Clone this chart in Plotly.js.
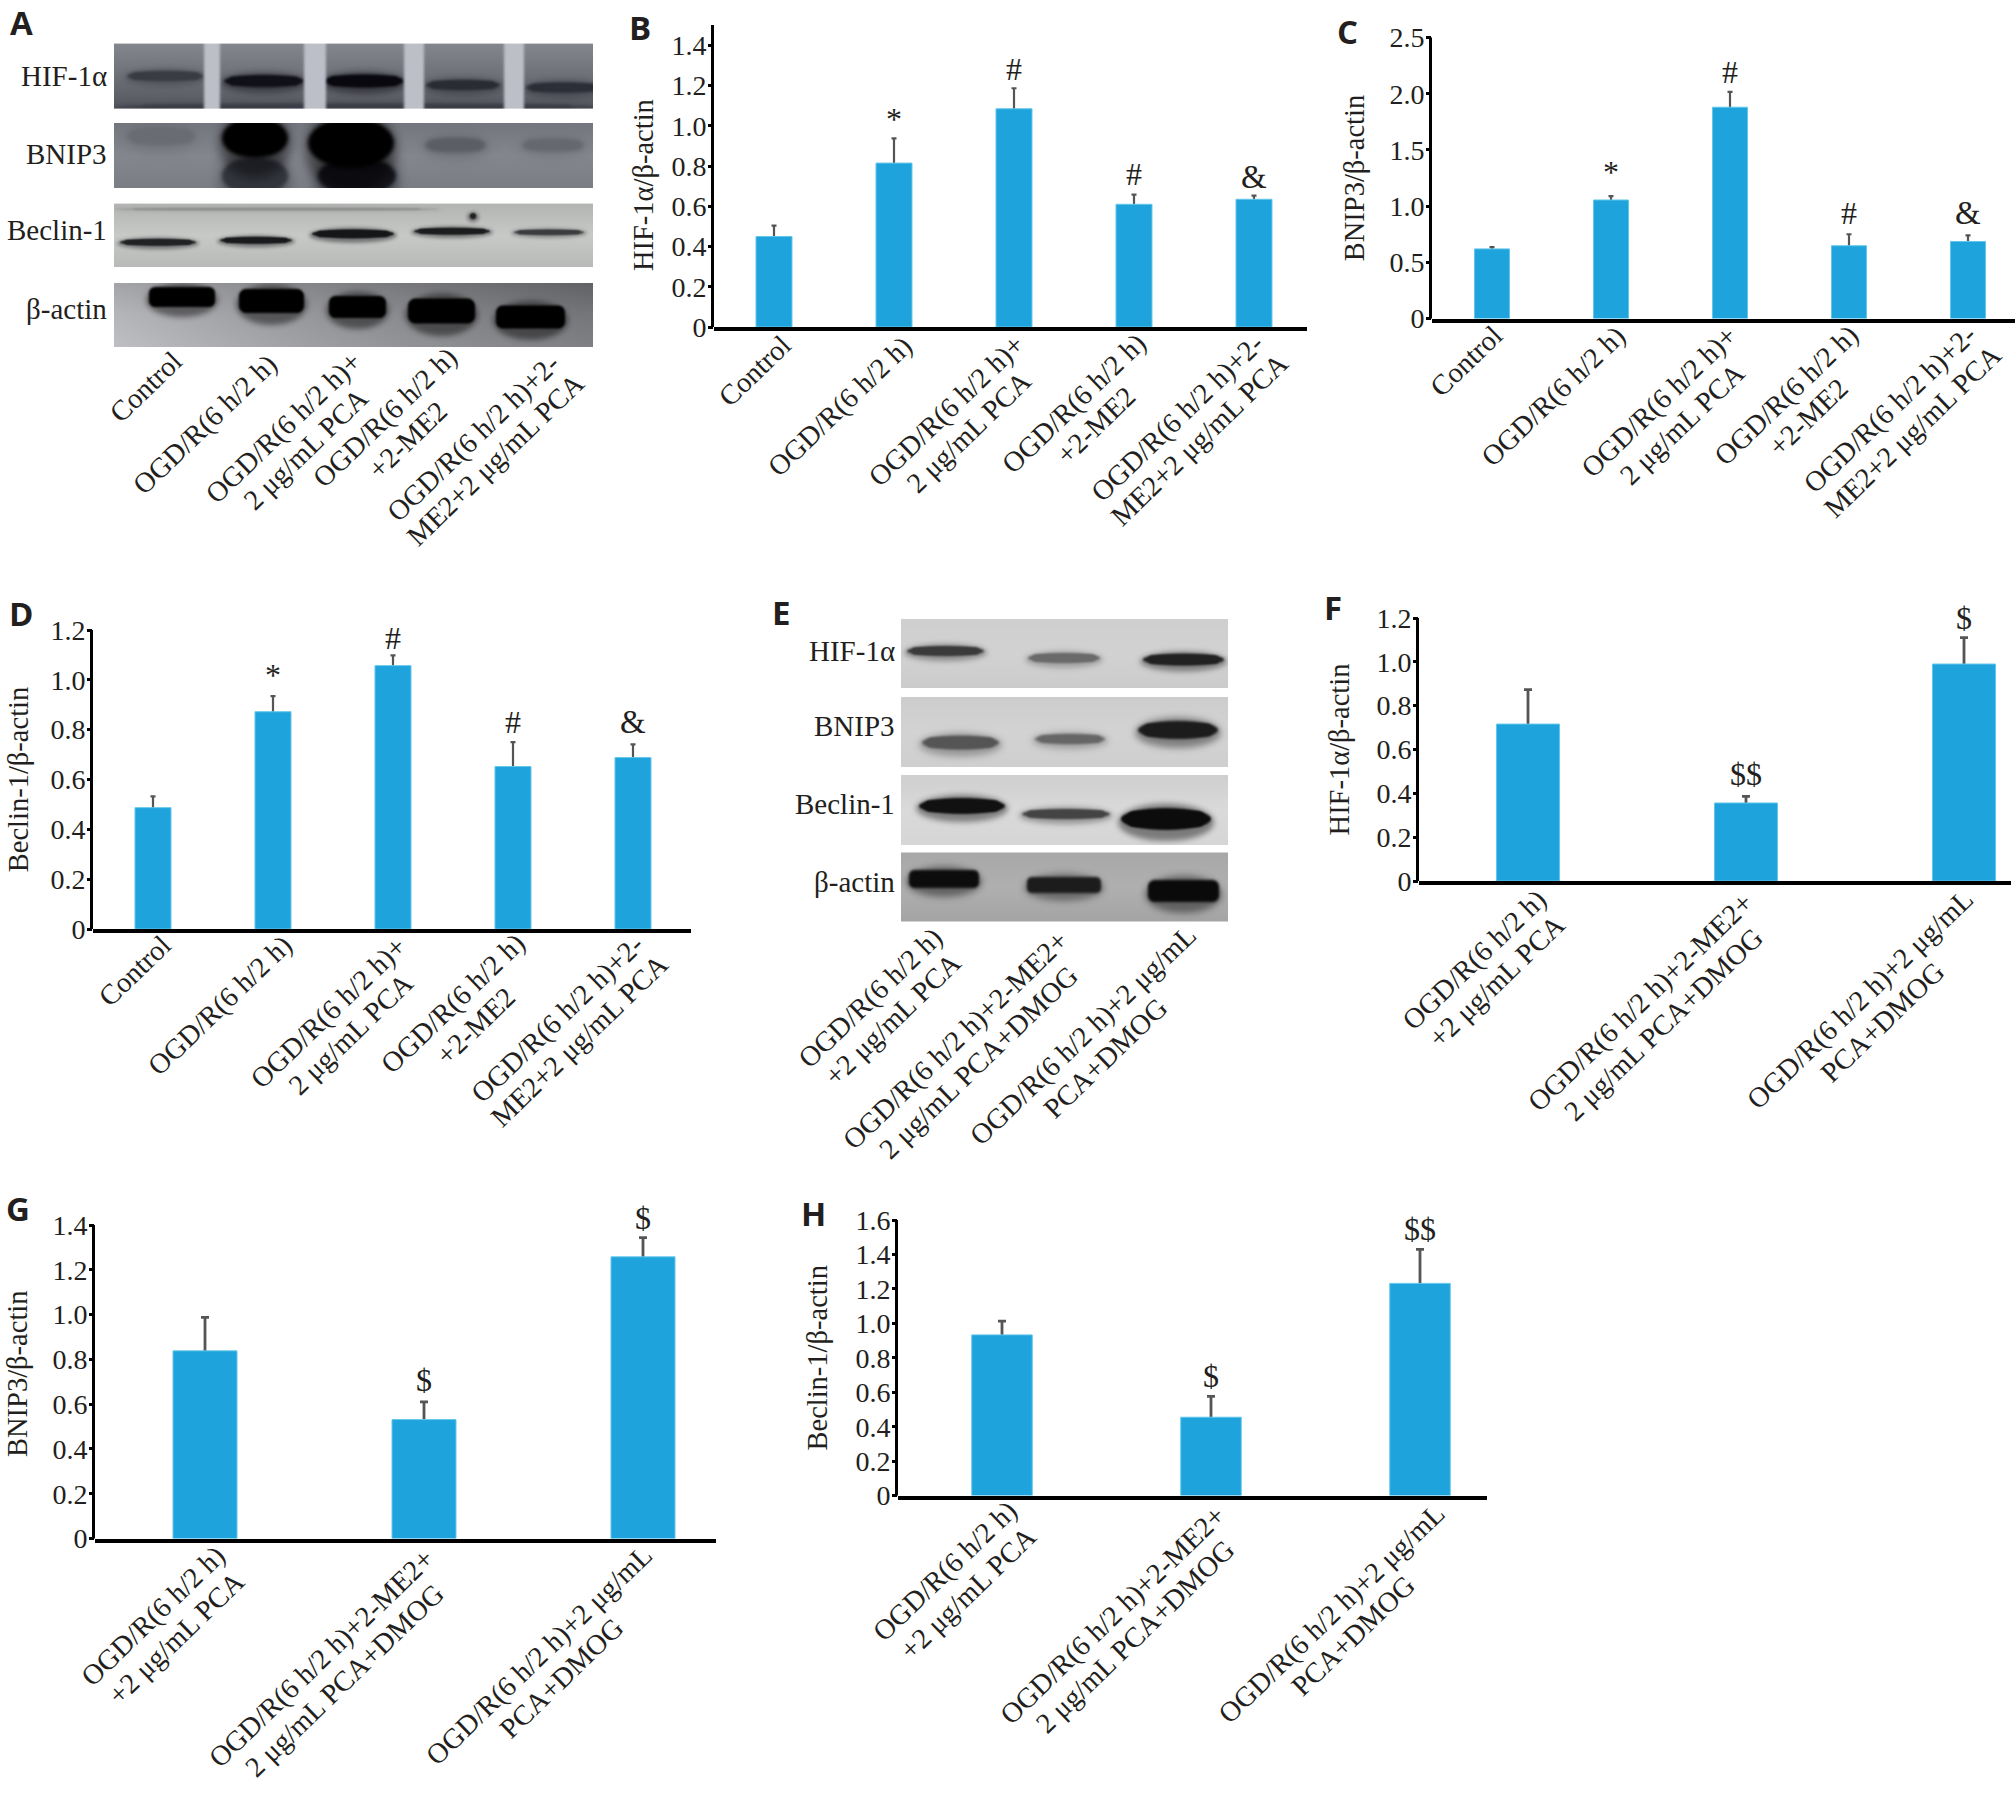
<!DOCTYPE html>
<html><head><meta charset="utf-8">
<script src="https://cdn.plot.ly/plotly-3.0.1.min.js"></script>
<style>html,body{margin:0;padding:0;background:#fff}#c{width:2016px;height:1797px}</style>
</head><body><div id="c"></div>
<script>
// ---------- data ----------
const groupsFive = ['Control','OGD/R(6 h/2 h)','OGD/R(6 h/2 h)+<br>2 μg/mL PCA','OGD/R(6 h/2 h)<br>+2-ME2','OGD/R(6 h/2 h)+2-<br>ME2+2 μg/mL PCA'];
const groupsThree = ['OGD/R(6 h/2 h)<br>+2 μg/mL PCA','OGD/R(6 h/2 h)+2-ME2+<br>2 μg/mL PCA+DMOG','OGD/R(6 h/2 h)+2 μg/mL<br>PCA+DMOG'];
const proteins = ['HIF-1α','BNIP3','Beclin-1','β-actin'];

const hifB = [0.45,0.815,1.085,0.61,0.635];
const hifBErr = [0.054,0.123,0.102,0.048,0.018];
const hifBMarks = ['','*','#','#','&'];
const hifBMarkY = [0,1.055,1.285,0.762,0.744];

const bnipC = [0.62,1.055,1.88,0.648,0.686];
const bnipCErr = [0.015,0.035,0.137,0.102,0.054];
const bnipCMarks = ['','*','#','#','&'];
const bnipCMarkY = [0,1.34,2.19,0.937,0.937];

const becD = [0.487,0.872,1.057,0.652,0.688];
const becDErr = [0.045,0.063,0.041,0.098,0.053];
const becDMarks = ['','*','#','#','&'];
const becDMarkY = [0,1.035,1.166,0.829,0.832];

const hifF = [0.716,0.356,0.99];
const hifFErr = [0.157,0.03,0.12];
const hifFMarks = ['','$$','$'];
const hifFMarkY = [0,0.489,1.2];

const bnipG = [0.838,0.531,1.258];
const bnipGErr = [0.15,0.079,0.086];
const bnipGMarks = ['','$','$'];
const bnipGMarkY = [0,0.71,1.43];

const becH = [0.933,0.455,1.232];
const becHErr = [0.08,0.121,0.197];
const becHMarks = ['','$','$$'];
const becHMarkY = [0,0.697,1.547];

const ticks14 = [0,0.2,0.4,0.6,0.8,1.0,1.2,1.4];
const ticks12 = [0,0.2,0.4,0.6,0.8,1.0,1.2];
const ticks16 = [0,0.2,0.4,0.6,0.8,1.0,1.2,1.4,1.6];
const ticks25 = [0,0.5,1.0,1.5,2.0,2.5];

// ---------- page geometry (pixels of the 2016x1797 page) ----------
const W=2016,H=1797;
const SERIF='"Liberation Serif", serif', INK='#231f20', BLUE='#1ea3dc';
const LABEL_SIZE=28.5, LABEL_ANGLE=44, LINE_STEP=22;
const px=v=>v/W, py=v=>1-v/H;
const panels=[
 {name:'HIF-1α/β-actin',cats:groupsFive,v:hifB,e:hifBErr,m:hifBMarks,my:hifBMarkY,t:ticks14,x0:714,x1:1307,base:327,top:43.2,axisTop:25,ymax:1.411,bars:[774,894,1015,1135,1256],bw:36,lab:[[-20,44],[-54,80],[-64,87],[-60,77],[-64,103]],cap:2.5,th:2.2,so:9},
 {name:'BNIP3/β-actin',cats:groupsFive,v:bnipC,e:bnipCErr,m:bnipCMarks,my:bnipCMarkY,t:ticks25,x0:1432,x1:2015,base:318.6,top:37.5,axisTop:37.5,ymax:2.5,bars:[1492,1611,1731,1851,1970],bw:35,lab:[[-26,43],[-58,78],[-67,87],[-63,77],[-65,103]],cap:2.5,th:2.2,so:16},
 {name:'Beclin-1/β-actin',cats:groupsFive,v:becD,e:becDErr,m:becDMarks,my:becDMarkY,t:ticks12,x0:93,x1:691,base:929,top:630,axisTop:630,ymax:1.2,bars:[153,273,394,515,635],bw:36,lab:[[-19,42],[-53,77],[-61,87],[-60,75],[-63,102]],cap:2.5,th:2.2,so:13},
 {name:'HIF-1α/β-actin',cats:groupsThree,v:hifF,e:hifFErr,m:hifFMarks,my:hifFMarkY,t:ticks12,x0:1419,x1:2011,base:881,top:618,axisTop:618,ymax:1.2,bars:[1528,1746,1964.5],bw:63,lab:[[-44,88],[-100,126],[-104,119]],cap:4,th:2.8,so:18},
 {name:'BNIP3/β-actin',cats:groupsThree,v:bnipG,e:bnipGErr,m:bnipGMarks,my:bnipGMarkY,t:ticks14,x0:95,x1:716,base:1538.5,top:1209,axisTop:1225,ymax:1.4716,bars:[205,424,643],bw:64,lab:[[-42,87],[-97,124.5],[-104,117.5]],cap:4,th:2.8,so:16},
 {name:'Beclin-1/β-actin',cats:groupsThree,v:becH,e:becHErr,m:becHMarks,my:becHMarkY,t:ticks16,x0:898,x1:1487,base:1495.6,top:1220,axisTop:1220,ymax:1.6,bars:[1002,1211,1419],bw:60.5,lab:[[-47,85],[-93,124],[-88.5,118]],cap:4,th:2.8,so:19}
];
const panelLetters=[['A',21,22],['B',640,27],['C',1347,31],['D',21,613],['E',781,612],['F',1333,607],['G',18,1208],['H',813,1213.5]];

// blot strips: box, background stops, light stitching gaps, bands [x0,x1,cy,ry,grey]
const blots=[
 {box:[114,43.6,479,65],bg:['#85878e','#6f7179','#55575f'],gaps:[[204,220],[304,326],[404,424],[504,524]],gapCol:'#bcbec8',blur:2.4,bands:[[127,204,76,5,'#3a3c44'],[224,304,81,6,'#101018'],[324,404,81,6.5,'#08080e'],[426,500,85,5,'#2a2c34'],[526,600,87.5,5,'#2c2e38'],[114,600,107,3,'#3c3e48']]},
 {box:[114,123,479,65],bg:['#74767e','#85878f','#7b7d85'],gaps:[],blur:4,bands:[[127,195,136,9,'#6a6c74'],[222,288,176,18,'#34363e'],[318,396,176,18,'#15151c'],[222,288,138,20,'#000'],[308,394,143,25,'#000'],[425,486,145,7,'#5c5e66'],[522,584,145,6,'#666870']]},
 {box:[114,203.6,479,63.4],bg:['#b3b5b3','#c8cac8','#b8bab8'],gaps:[],blur:1.4,bands:[[114,440,209,1,'#8b8d8b'],[120,196,242,3.5,'#202224'],[220,292,240,3.5,'#181a1c'],[312,394,233.6,4.5,'#141618'],[414,490,231,3.5,'#1a1c1e'],[514,584,232,2.8,'#3a3c3e'],[470,476,216,3,'#222']]},
 {box:[114,283,479,64],bg:['#7d7e83','#96979c','#a3a4a8'],shade:['rgba(255,255,255,0.3)','rgba(0,0,0,0.22)'],flat:true,gaps:[],blur:2.2,bands:[[149,215,297,10,'#000'],[239,304,301,12,'#000'],[329,386,307,11,'#000'],[408,475,311,12.5,'#000'],[496,565,317,11.5,'#000']]},
 {box:[901,619,327,69],bg:['#cfcfcf','#d2d2d2','#cccccc'],gaps:[],blur:2,bands:[[907,984,651,5,'#3a3a3a'],[1028,1100,658,5,'#6a6a6a'],[1143,1224,659.6,6,'#222']]},
 {box:[901,697,327,70],bg:['#cdcdcd','#d3d3d3','#cfcfcf'],gaps:[],blur:2.6,bands:[[922,999,742.6,7,'#555'],[1035,1105,739,5,'#666'],[1138,1218,730,9,'#1c1c1c']]},
 {box:[901,775,327,70],bg:['#cfcfcf','#dadada','#d6d6d6'],gaps:[],blur:2.2,bands:[[919,1005,806,8,'#111'],[1022,1110,814,5,'#444'],[1121,1211,819,11,'#0c0c0c']]},
 {box:[901,852.5,327,69],bg:['#a8a8a8','#b0b0b0','#a4a4a4'],flat:true,gaps:[],blur:2.6,bands:[[909,979,879,9,'#0c0c0c'],[1027,1101,885,8,'#1c1c1c'],[1148,1219,891,11,'#0a0a0a']]}
];
const stripLabels=[[109,76],[109,154],[109,230],[109,309],[897,651],[897,726],[897,804],[897,881.6]];
// rotated group labels for the two blot panels: centre of each label block
const blotLabelsA=[[145,387],[205,425],[287,431],[385,418],[486,450]];
const blotLabelsE=[[880,1007],[961,1045],[1083,1036]];

function paintBlot(b){
  const [x,y,w,h]=b.box, c=document.createElement('canvas');
  c.width=w*2;c.height=h*2;
  const g=c.getContext('2d');g.scale(2,2);
  const lg=g.createLinearGradient(0,0,0,h);
  b.bg.forEach((s,i)=>lg.addColorStop(i/(b.bg.length-1),s));
  g.fillStyle=lg;g.fillRect(0,0,w,h);
  if(b.shade){const sg=g.createLinearGradient(0,0,w,0);sg.addColorStop(0,b.shade[0]);sg.addColorStop(1,b.shade[1]);g.fillStyle=sg;g.fillRect(0,0,w,h);}
  b.bands.forEach(([a,e,cy,ry,col])=>{
    // soft halo, then the band core
    g.filter='blur('+(b.blur*2.6)+'px)';g.globalAlpha=0.45;g.fillStyle=col;
    g.beginPath();g.ellipse((a+e)/2-x,cy-y+ry*0.3,(e-a)/2+3,ry*1.7,0,0,7);g.fill();
    g.filter='blur('+b.blur+'px)';g.globalAlpha=1;
    if(b.flat){g.beginPath();g.roundRect(a-x,cy-y-ry,e-a,ry*2,ry*0.6);g.fill();return;}
    g.beginPath();g.roundRect(a-x+(e-a)*0.06,cy-y-ry*0.7,(e-a)*0.88,ry*1.4,ry*0.7);g.fill();
    g.beginPath();g.ellipse((a+e)/2-x,cy-y,(e-a)/2,ry,0,0,7);g.fill();
  });
  g.filter='blur(2.5px)';
  b.gaps.forEach(([a,e])=>{g.fillStyle=b.gapCol;g.fillRect(a-x,-8,e-a,h+16);});
  return c.toDataURL('image/png');
}

const measureCtx=document.createElement('canvas').getContext('2d');
measureCtx.font=LABEL_SIZE+'px "Liberation Serif"';
// offset of each line's centre from the centre of the whole rotated label block
function lineOffsets(lines){
  const r=Math.cos(LABEL_ANGLE*Math.PI/180)*0.5;
  let x0=1e9,x1=-1e9;
  lines.forEach((t,i)=>{const A=measureCtx.measureText(t).width*r+7,c=i*LINE_STEP;x0=Math.min(x0,c-A);x1=Math.max(x1,c+A);});
  const mid=(x0+x1)/2;
  return lines.map((t,i)=>i*LINE_STEP-mid);
}

const data=[],ann=[],shapes=[],layout={
  width:W,height:H,margin:{l:0,r:0,t:0,b:0},paper_bgcolor:'#fff',plot_bgcolor:'rgba(0,0,0,0)',
  showlegend:false,font:{family:SERIF,color:INK},barmode:'overlay',
  images:blots.map(b=>({source:paintBlot(b),xref:'paper',yref:'paper',x:px(b.box[0]),y:py(b.box[1]),sizex:b.box[2]/W,sizey:b.box[3]/H,sizing:'stretch',xanchor:'left',yanchor:'top',layer:'below'}))
};
const labelStyle={textangle:-LABEL_ANGLE,showarrow:false,xanchor:'center',yanchor:'middle',font:{family:SERIF,size:LABEL_SIZE,color:INK}};

panels.forEach((p,i)=>{
  const n=i+1, xa='x'+(n>1?n:''), ya='y'+(n>1?n:'');
  const k=p.bars[1]-p.bars[0], a=-(p.bars[0]-p.x0)/k, b=a+(p.x1-p.x0)/k;
  // transparent carrier of the whiskers, so the visible bar covers their lower half
  data.push({type:'bar',xaxis:xa,yaxis:ya,x:p.cats,y:p.v,width:p.bw/k,marker:{color:'rgba(0,0,0,0)'},
    error_y:{type:'data',array:p.e,color:'#555',thickness:p.th,width:p.cap},hoverinfo:'skip'});
  data.push({type:'bar',xaxis:xa,yaxis:ya,x:p.cats,y:p.v,width:p.bw/k,
    marker:{color:BLUE,line:{color:'#63c7ea',width:1}},hoverinfo:'skip'});
  layout['xaxis'+(n>1?n:'')]={type:'category',categoryorder:'array',categoryarray:p.cats,anchor:ya,domain:[px(p.x0),px(p.x1)],range:[a,b],
    showline:true,linecolor:'#000',linewidth:4,ticks:'',showticklabels:false,showgrid:false,zeroline:false,fixedrange:true};
  layout['yaxis'+(n>1?n:'')]={anchor:xa,domain:[py(p.base),py(p.top)],range:[0,p.ymax],tickmode:'array',tickvals:p.t,
    ticktext:p.t.map(v=>v===0?'0':v.toFixed(1)),ticks:'outside',ticklen:5,tickwidth:3,tickcolor:'#000',ticklabelstandoff:-4,
    showline:false,showgrid:false,zeroline:false,fixedrange:true,
    tickfont:{family:SERIF,size:28,color:INK},
    title:{text:p.name,font:{family:SERIF,size:28.5,color:INK},standoff:p.so}};
  shapes.push({type:'line',xref:'paper',yref:'paper',x0:px(p.x0-1.5),x1:px(p.x0-1.5),y0:py(p.base),y1:py(p.axisTop),line:{color:'#000',width:3}});
  p.cats.forEach((c,j)=>{
    const lines=c.split('<br>'), off=lineOffsets(lines);
    lines.forEach((t,l)=>ann.push(Object.assign({xref:xa,yref:'paper',x:j,xshift:p.lab[j][0]+off[l],y:py(p.base+p.lab[j][1]+off[l]),text:t},labelStyle)));
    if(p.m[j]) ann.push({xref:xa,yref:ya,x:j,y:p.my[j],text:p.m[j],showarrow:false,xanchor:'center',yanchor:'middle',
      yshift:p.m[j]==='*'?-4:0,font:{family:SERIF,size:p.m[j]==='&'?33:32,color:INK}});
  });
});
layout.shapes=shapes;

function addBlotLabels(centres,groups){
  centres.forEach((q,j)=>{
    const lines=groups[j].split('<br>'), off=lineOffsets(lines);
    lines.forEach((t,l)=>ann.push(Object.assign({xref:'paper',yref:'paper',x:px(q[0]+off[l]),y:py(q[1]+off[l]),text:t},labelStyle)));
  });
}
addBlotLabels(blotLabelsA,groupsFive);
addBlotLabels(blotLabelsE,groupsThree);
stripLabels.forEach((q,j)=>ann.push({xref:'paper',yref:'paper',x:px(q[0]),y:py(q[1]),text:proteins[j%4],showarrow:false,xanchor:'right',yanchor:'middle',font:{family:SERIF,size:29,color:INK}}));
panelLetters.forEach(q=>ann.push({xref:'paper',yref:'paper',x:px(q[1]),y:py(q[2]),text:'<b>'+q[0]+'</b>',showarrow:false,xanchor:'center',yanchor:'middle',font:{family:'"Open Sans", sans-serif',size:33,color:'#231f20'}}));
layout.annotations=ann;

Plotly.newPlot('c',data,layout,{displayModeBar:false,staticPlot:true});
</script></body></html>
